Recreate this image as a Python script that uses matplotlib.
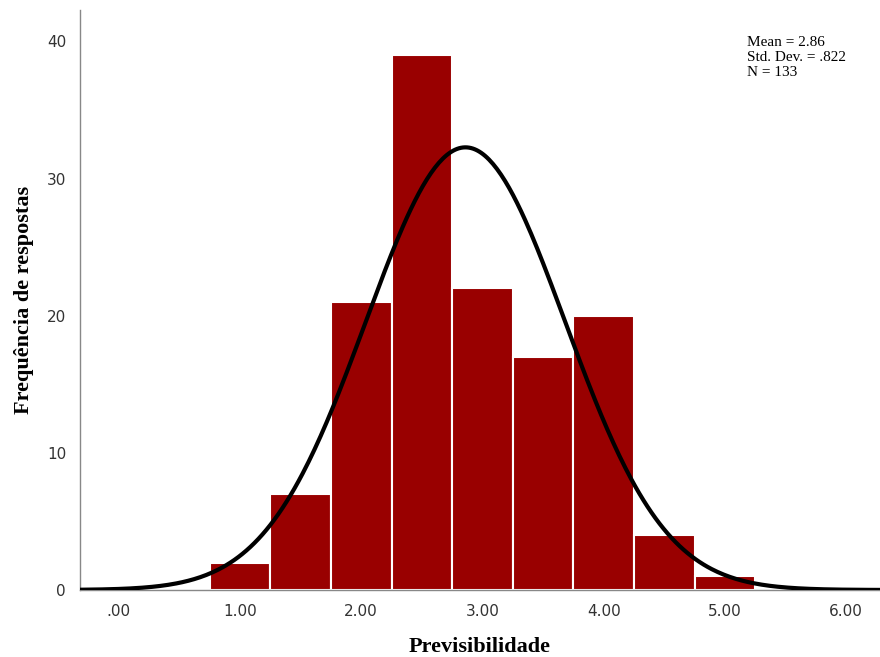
import numpy as np
import matplotlib.pyplot as plt

# histogram bins (bin width 0.5) and counts
bin_left = [0.75, 1.25, 1.75, 2.25, 2.75, 3.25, 3.75, 4.25, 4.75]
counts = [2, 7, 21, 39, 22, 17, 20, 4, 1]
bin_width = 0.5

mean = 2.86
std = 0.822
n = 133

xticks = [0, 1, 2, 3, 4, 5, 6]
xticklabels = ['.00', '1.00', '2.00', '3.00', '4.00', '5.00', '6.00']
yticks = [0, 10, 20, 30, 40]

fig = plt.figure(figsize=(8.8, 6.57), dpi=100)
ax = fig.add_axes([0.0909, 0.102, 0.9091, 0.883])

ax.bar(bin_left, counts, width=bin_width, align='edge',
       color='#990000', edgecolor='white', linewidth=1.5, zorder=2)

x = np.linspace(-0.32, 6.28, 400)
pdf = n * bin_width / (std * np.sqrt(2 * np.pi)) * np.exp(-0.5 * ((x - mean) / std) ** 2)
ax.plot(x, pdf, color='black', linewidth=3, zorder=3)

ax.set_xlim(-0.32, 6.28)
ax.set_ylim(0, 42.3)
ax.set_xticks(xticks)
ax.set_xticklabels(xticklabels)
ax.set_yticks(yticks)
ax.tick_params(length=0, labelsize=11, colors='#333333', pad=10)
ax.tick_params(axis='y', pad=10)

for s in ['top', 'right']:
    ax.spines[s].set_visible(False)
for s in ['left', 'bottom']:
    ax.spines[s].set_color('#888888')
    ax.spines[s].set_linewidth(1)

ax.set_xlabel('Previsibilidade', fontsize=16, fontweight='bold',
              family='Liberation Serif', labelpad=13)
ax.set_ylabel('Frequência de respostas', fontsize=16, fontweight='bold',
              family='Liberation Serif', labelpad=9)

ax.text(0.834, 0.955, 'Mean = 2.86\nStd. Dev. = .822\nN = 133', transform=ax.transAxes,
        family='Liberation Serif', fontsize=11, va='top', ha='left', linespacing=1.2)

fig.savefig('out.png', dpi=100)
